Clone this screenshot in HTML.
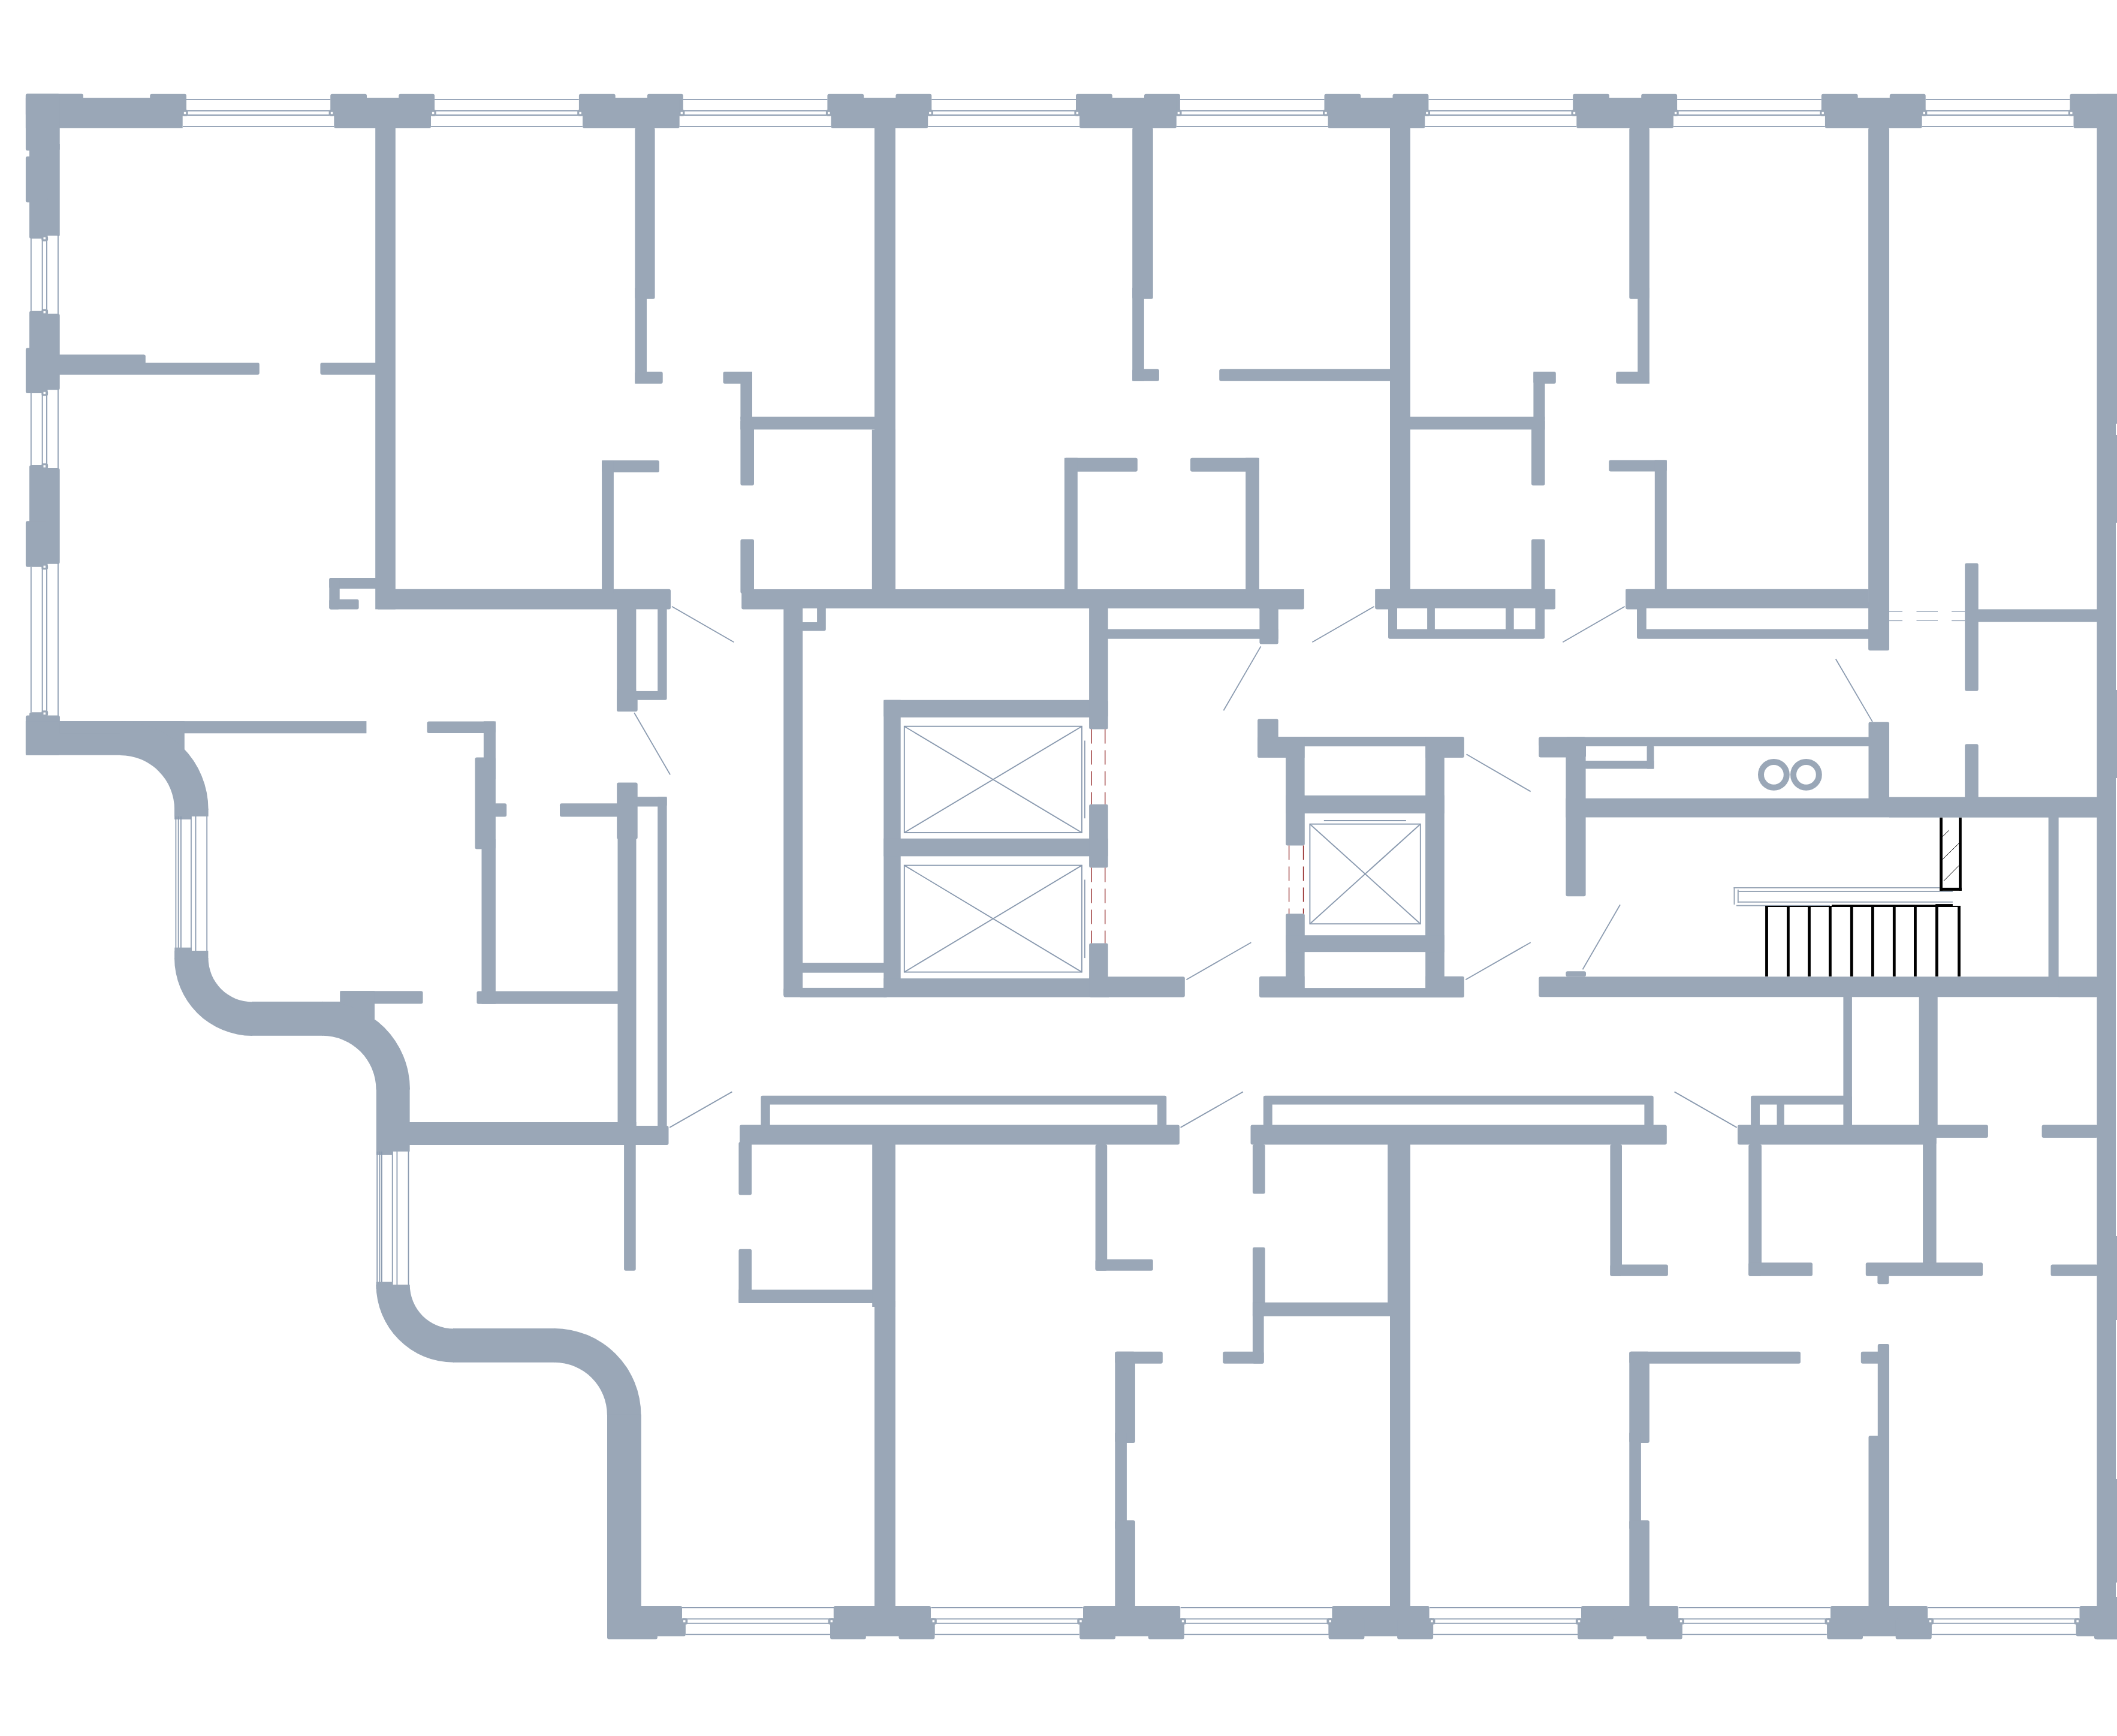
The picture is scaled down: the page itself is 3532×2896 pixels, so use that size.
<!DOCTYPE html>
<html><head><meta charset="utf-8"><title>Floor plan</title>
<style>html,body{margin:0;padding:0;background:#fff}svg{display:block}</style></head>
<body><svg width="3532" height="2896" viewBox="0 0 3532 2896" fill="#9AA7B7" shape-rendering="geometricPrecision">
<rect x="42.9" y="156.6" width="96.0" height="36.9" rx="3"/>
<rect x="42.9" y="163.1" width="261.8" height="50.8"/>
<rect x="250.2" y="156.8" width="60.8" height="36.7" rx="3"/>
<rect x="551.2" y="156.8" width="60.8" height="36.7" rx="3"/>
<rect x="665.2" y="156.8" width="59.9" height="36.7" rx="3"/>
<rect x="557.3" y="163.1" width="161.7" height="50.9" rx="3"/>
<rect x="965.9" y="156.8" width="60.8" height="36.7" rx="3"/>
<rect x="1079.9" y="156.8" width="59.9" height="36.7" rx="3"/>
<rect x="972.0" y="163.1" width="161.7" height="50.9" rx="3"/>
<rect x="1380.4" y="156.8" width="60.8" height="36.7" rx="3"/>
<rect x="1494.4" y="156.8" width="59.9" height="36.7" rx="3"/>
<rect x="1386.5" y="163.1" width="161.7" height="50.9" rx="3"/>
<rect x="1795.0" y="156.8" width="60.8" height="36.7" rx="3"/>
<rect x="1909.0" y="156.8" width="59.9" height="36.7" rx="3"/>
<rect x="1801.1" y="163.1" width="161.7" height="50.9" rx="3"/>
<rect x="2209.5" y="156.8" width="60.8" height="36.7" rx="3"/>
<rect x="2323.5" y="156.8" width="59.9" height="36.7" rx="3"/>
<rect x="2215.6" y="163.1" width="161.7" height="50.9" rx="3"/>
<rect x="2624.2" y="156.8" width="60.8" height="36.7" rx="3"/>
<rect x="2738.2" y="156.8" width="59.9" height="36.7" rx="3"/>
<rect x="2630.3" y="163.1" width="161.7" height="50.9" rx="3"/>
<rect x="3038.8" y="156.8" width="60.8" height="36.7" rx="3"/>
<rect x="3152.8" y="156.8" width="59.9" height="36.7" rx="3"/>
<rect x="3044.9" y="163.1" width="161.7" height="50.9" rx="3"/>
<rect x="3453.4" y="156.8" width="81.6" height="36.7" rx="3"/>
<rect x="3459.5" y="163.1" width="75.5" height="50.9" rx="3"/>
<line x1="311.0" y1="165.8" x2="551.2" y2="165.8" stroke="#8B9BB0" stroke-width="1.8"/>
<line x1="311.0" y1="184.9" x2="551.2" y2="184.9" stroke="#8B9BB0" stroke-width="1.8"/>
<line x1="311.0" y1="192.0" x2="551.2" y2="192.0" stroke="#8B9BB0" stroke-width="1.8"/>
<line x1="305.0" y1="211.2" x2="557.2" y2="211.2" stroke="#8B9BB0" stroke-width="1.8"/>
<line x1="725.1" y1="165.8" x2="965.8" y2="165.8" stroke="#8B9BB0" stroke-width="1.8"/>
<line x1="725.1" y1="184.9" x2="965.8" y2="184.9" stroke="#8B9BB0" stroke-width="1.8"/>
<line x1="725.1" y1="192.0" x2="965.8" y2="192.0" stroke="#8B9BB0" stroke-width="1.8"/>
<line x1="719.1" y1="211.2" x2="971.8" y2="211.2" stroke="#8B9BB0" stroke-width="1.8"/>
<line x1="1139.8" y1="165.8" x2="1380.5" y2="165.8" stroke="#8B9BB0" stroke-width="1.8"/>
<line x1="1139.8" y1="184.9" x2="1380.5" y2="184.9" stroke="#8B9BB0" stroke-width="1.8"/>
<line x1="1139.8" y1="192.0" x2="1380.5" y2="192.0" stroke="#8B9BB0" stroke-width="1.8"/>
<line x1="1133.8" y1="211.2" x2="1386.5" y2="211.2" stroke="#8B9BB0" stroke-width="1.8"/>
<line x1="1554.3" y1="165.8" x2="1795.0" y2="165.8" stroke="#8B9BB0" stroke-width="1.8"/>
<line x1="1554.3" y1="184.9" x2="1795.0" y2="184.9" stroke="#8B9BB0" stroke-width="1.8"/>
<line x1="1554.3" y1="192.0" x2="1795.0" y2="192.0" stroke="#8B9BB0" stroke-width="1.8"/>
<line x1="1548.3" y1="211.2" x2="1801.0" y2="211.2" stroke="#8B9BB0" stroke-width="1.8"/>
<line x1="1968.9" y1="165.8" x2="2209.6" y2="165.8" stroke="#8B9BB0" stroke-width="1.8"/>
<line x1="1968.9" y1="184.9" x2="2209.6" y2="184.9" stroke="#8B9BB0" stroke-width="1.8"/>
<line x1="1968.9" y1="192.0" x2="2209.6" y2="192.0" stroke="#8B9BB0" stroke-width="1.8"/>
<line x1="1962.9" y1="211.2" x2="2215.6" y2="211.2" stroke="#8B9BB0" stroke-width="1.8"/>
<line x1="2383.4" y1="165.8" x2="2624.1" y2="165.8" stroke="#8B9BB0" stroke-width="1.8"/>
<line x1="2383.4" y1="184.9" x2="2624.1" y2="184.9" stroke="#8B9BB0" stroke-width="1.8"/>
<line x1="2383.4" y1="192.0" x2="2624.1" y2="192.0" stroke="#8B9BB0" stroke-width="1.8"/>
<line x1="2377.4" y1="211.2" x2="2630.1" y2="211.2" stroke="#8B9BB0" stroke-width="1.8"/>
<line x1="2798.1" y1="165.8" x2="3038.8" y2="165.8" stroke="#8B9BB0" stroke-width="1.8"/>
<line x1="2798.1" y1="184.9" x2="3038.8" y2="184.9" stroke="#8B9BB0" stroke-width="1.8"/>
<line x1="2798.1" y1="192.0" x2="3038.8" y2="192.0" stroke="#8B9BB0" stroke-width="1.8"/>
<line x1="2792.1" y1="211.2" x2="3044.8" y2="211.2" stroke="#8B9BB0" stroke-width="1.8"/>
<line x1="3212.7" y1="165.8" x2="3453.4" y2="165.8" stroke="#8B9BB0" stroke-width="1.8"/>
<line x1="3212.7" y1="184.9" x2="3453.4" y2="184.9" stroke="#8B9BB0" stroke-width="1.8"/>
<line x1="3212.7" y1="192.0" x2="3453.4" y2="192.0" stroke="#8B9BB0" stroke-width="1.8"/>
<line x1="3206.7" y1="211.2" x2="3459.4" y2="211.2" stroke="#8B9BB0" stroke-width="1.8"/>
<rect x="1390.8" y="2679.0" width="162.2" height="22.0" rx="3"/>
<rect x="1385.0" y="2699.5" width="174.5" height="30.1" rx="3"/>
<rect x="1385.0" y="2699.5" width="59.8" height="35.1" rx="3"/>
<rect x="1499.5" y="2699.5" width="60.0" height="35.1" rx="3"/>
<rect x="1807.0" y="2679.0" width="162.2" height="22.0" rx="3"/>
<rect x="1801.2" y="2699.5" width="174.5" height="30.1" rx="3"/>
<rect x="1801.2" y="2699.5" width="59.8" height="35.1" rx="3"/>
<rect x="1915.7" y="2699.5" width="60.0" height="35.1" rx="3"/>
<rect x="2222.4" y="2679.0" width="162.2" height="22.0" rx="3"/>
<rect x="2216.6" y="2699.5" width="174.5" height="30.1" rx="3"/>
<rect x="2216.6" y="2699.5" width="59.8" height="35.1" rx="3"/>
<rect x="2331.1" y="2699.5" width="60.0" height="35.1" rx="3"/>
<rect x="2638.0" y="2679.0" width="162.2" height="22.0" rx="3"/>
<rect x="2632.2" y="2699.5" width="174.5" height="30.1" rx="3"/>
<rect x="2632.2" y="2699.5" width="59.8" height="35.1" rx="3"/>
<rect x="2746.7" y="2699.5" width="60.0" height="35.1" rx="3"/>
<rect x="3054.0" y="2679.0" width="162.2" height="22.0" rx="3"/>
<rect x="3048.2" y="2699.5" width="174.5" height="30.1" rx="3"/>
<rect x="3048.2" y="2699.5" width="59.8" height="35.1" rx="3"/>
<rect x="3162.7" y="2699.5" width="60.0" height="35.1" rx="3"/>
<rect x="3469.5" y="2679.0" width="65.5" height="22.0" rx="3"/>
<rect x="3463.6" y="2699.5" width="71.4" height="30.1" rx="3"/>
<rect x="3494.0" y="2699.5" width="41.0" height="35.1" rx="3"/>
<rect x="1013.0" y="2679.0" width="83.9" height="55.6" rx="3"/>
<rect x="1013.0" y="2679.0" width="125.0" height="22.0" rx="3"/>
<rect x="1013.0" y="2699.5" width="130.9" height="30.1" rx="3"/>
<line x1="1137.9" y1="2681.8" x2="1391.0" y2="2681.8" stroke="#8B9BB0" stroke-width="1.8"/>
<line x1="1143.9" y1="2700.7" x2="1385.0" y2="2700.7" stroke="#8B9BB0" stroke-width="1.8"/>
<line x1="1143.9" y1="2707.8" x2="1385.0" y2="2707.8" stroke="#8B9BB0" stroke-width="1.8"/>
<line x1="1143.9" y1="2726.7" x2="1385.0" y2="2726.7" stroke="#8B9BB0" stroke-width="1.8"/>
<line x1="1553.5" y1="2681.8" x2="1806.6" y2="2681.8" stroke="#8B9BB0" stroke-width="1.8"/>
<line x1="1559.5" y1="2700.7" x2="1800.6" y2="2700.7" stroke="#8B9BB0" stroke-width="1.8"/>
<line x1="1559.5" y1="2707.8" x2="1800.6" y2="2707.8" stroke="#8B9BB0" stroke-width="1.8"/>
<line x1="1559.5" y1="2726.7" x2="1800.6" y2="2726.7" stroke="#8B9BB0" stroke-width="1.8"/>
<line x1="1969.7" y1="2681.8" x2="2222.8" y2="2681.8" stroke="#8B9BB0" stroke-width="1.8"/>
<line x1="1975.7" y1="2700.7" x2="2216.8" y2="2700.7" stroke="#8B9BB0" stroke-width="1.8"/>
<line x1="1975.7" y1="2707.8" x2="2216.8" y2="2707.8" stroke="#8B9BB0" stroke-width="1.8"/>
<line x1="1975.7" y1="2726.7" x2="2216.8" y2="2726.7" stroke="#8B9BB0" stroke-width="1.8"/>
<line x1="2385.1" y1="2681.8" x2="2638.2" y2="2681.8" stroke="#8B9BB0" stroke-width="1.8"/>
<line x1="2391.1" y1="2700.7" x2="2632.2" y2="2700.7" stroke="#8B9BB0" stroke-width="1.8"/>
<line x1="2391.1" y1="2707.8" x2="2632.2" y2="2707.8" stroke="#8B9BB0" stroke-width="1.8"/>
<line x1="2391.1" y1="2726.7" x2="2632.2" y2="2726.7" stroke="#8B9BB0" stroke-width="1.8"/>
<line x1="2800.7" y1="2681.8" x2="3053.8" y2="2681.8" stroke="#8B9BB0" stroke-width="1.8"/>
<line x1="2806.7" y1="2700.7" x2="3047.8" y2="2700.7" stroke="#8B9BB0" stroke-width="1.8"/>
<line x1="2806.7" y1="2707.8" x2="3047.8" y2="2707.8" stroke="#8B9BB0" stroke-width="1.8"/>
<line x1="2806.7" y1="2726.7" x2="3047.8" y2="2726.7" stroke="#8B9BB0" stroke-width="1.8"/>
<line x1="3216.7" y1="2681.8" x2="3469.8" y2="2681.8" stroke="#8B9BB0" stroke-width="1.8"/>
<line x1="3222.7" y1="2700.7" x2="3463.8" y2="2700.7" stroke="#8B9BB0" stroke-width="1.8"/>
<line x1="3222.7" y1="2707.8" x2="3463.8" y2="2707.8" stroke="#8B9BB0" stroke-width="1.8"/>
<line x1="3222.7" y1="2726.7" x2="3463.8" y2="2726.7" stroke="#8B9BB0" stroke-width="1.8"/>
<rect x="3498.4" y="156.8" width="36.6" height="2577.8"/>
<rect x="42.9" y="156.6" width="56.8" height="94.7" rx="3"/>
<rect x="49.0" y="240.0" width="50.7" height="153.2"/>
<rect x="42.9" y="261.0" width="36.6" height="76.6" rx="3"/>
<rect x="49.0" y="330.0" width="30.5" height="68.0" rx="3"/>
<line x1="51.8" y1="398.0" x2="51.8" y2="518.8" stroke="#8B9BB0" stroke-width="1.8"/>
<line x1="70.6" y1="398.0" x2="70.6" y2="518.8" stroke="#8B9BB0" stroke-width="1.8"/>
<line x1="78.0" y1="398.0" x2="78.0" y2="518.8" stroke="#8B9BB0" stroke-width="1.8"/>
<line x1="96.9" y1="392.0" x2="96.9" y2="524.8" stroke="#8B9BB0" stroke-width="1.8"/>
<rect x="49.0" y="518.8" width="30.5" height="81.2" rx="3"/>
<rect x="49.0" y="523.5" width="50.7" height="127.0" rx="3"/>
<rect x="42.9" y="580.4" width="36.6" height="75.6" rx="3"/>
<line x1="51.8" y1="656.0" x2="51.8" y2="776.0" stroke="#8B9BB0" stroke-width="1.8"/>
<line x1="70.6" y1="656.0" x2="70.6" y2="776.0" stroke="#8B9BB0" stroke-width="1.8"/>
<line x1="78.0" y1="656.0" x2="78.0" y2="776.0" stroke="#8B9BB0" stroke-width="1.8"/>
<line x1="96.9" y1="650.0" x2="96.9" y2="782.0" stroke="#8B9BB0" stroke-width="1.8"/>
<rect x="49.0" y="776.0" width="30.5" height="124.0" rx="3"/>
<rect x="49.0" y="781.0" width="50.7" height="159.7" rx="3"/>
<rect x="42.9" y="869.3" width="36.6" height="76.5" rx="3"/>
<line x1="51.8" y1="945.8" x2="51.8" y2="1188.3" stroke="#8B9BB0" stroke-width="1.8"/>
<line x1="70.6" y1="945.8" x2="70.6" y2="1188.3" stroke="#8B9BB0" stroke-width="1.8"/>
<line x1="78.0" y1="945.8" x2="78.0" y2="1188.3" stroke="#8B9BB0" stroke-width="1.8"/>
<line x1="96.9" y1="939.8" x2="96.9" y2="1194.3" stroke="#8B9BB0" stroke-width="1.8"/>
<rect x="49.0" y="1188.3" width="30.5" height="21.7" rx="3"/>
<rect x="42.9" y="1193.6" width="57.0" height="66.1" rx="3"/>
<rect x="42.9" y="1203.1" width="158.1" height="56.6"/>
<rect x="99.7" y="1203.1" width="511.7" height="20.2"/>
<rect x="200.6" y="1203.1" width="107.2" height="46.9"/>
<path d="M200.6 1203.4 A147 147 0 0 1 347.6 1350.4 L291.1 1350.4 A90.5 90.5 0 0 0 200.6 1259.9 Z"/>
<rect x="291.1" y="1349.4" width="56.5" height="12.6"/>
<rect x="291.1" y="1349.4" width="26.9" height="17.6"/>
<line x1="293.4" y1="1362.0" x2="293.4" y2="1586.0" stroke="#8B9BB0" stroke-width="1.8"/>
<line x1="297.6" y1="1362.0" x2="297.6" y2="1586.0" stroke="#8B9BB0" stroke-width="1.8"/>
<line x1="301.9" y1="1362.0" x2="301.9" y2="1586.0" stroke="#8B9BB0" stroke-width="1.8"/>
<line x1="318.9" y1="1362.0" x2="318.9" y2="1586.0" stroke="#8B9BB0" stroke-width="1.8"/>
<line x1="326.5" y1="1362.0" x2="326.5" y2="1586.0" stroke="#8B9BB0" stroke-width="1.8"/>
<line x1="345.2" y1="1362.0" x2="345.2" y2="1586.0" stroke="#8B9BB0" stroke-width="1.8"/>
<rect x="291.3" y="1580.7" width="28.7" height="19.3"/>
<rect x="291.3" y="1586.0" width="56.1" height="13.0"/>
<path d="M291.0 1598.0 A130 130 0 0 0 421.0 1728.0 L421.0 1671.5 A73.5 73.5 0 0 1 347.5 1598.0 Z"/>
<rect x="420.0" y="1670.9" width="119.0" height="56.9"/>
<rect x="537.8" y="1670.9" width="87.1" height="29.1"/>
<rect x="567.4" y="1653.2" width="138.1" height="21.3" rx="3"/>
<rect x="567.4" y="1653.2" width="57.5" height="46.8"/>
<path d="M537.8 1671.3 A146.2 146.2 0 0 1 684.0 1817.5 L627.5 1817.5 A89.7 89.7 0 0 0 537.8 1727.8 Z"/>
<rect x="627.9" y="1816.5" width="55.7" height="104.5"/>
<rect x="627.9" y="1816.5" width="27.1" height="110.3"/>
<line x1="629.2" y1="1921.0" x2="629.2" y2="2143.0" stroke="#8B9BB0" stroke-width="1.8"/>
<line x1="633.5" y1="1921.0" x2="633.5" y2="2143.0" stroke="#8B9BB0" stroke-width="1.8"/>
<line x1="636.9" y1="1921.0" x2="636.9" y2="2143.0" stroke="#8B9BB0" stroke-width="1.8"/>
<line x1="654.7" y1="1921.0" x2="654.7" y2="2143.0" stroke="#8B9BB0" stroke-width="1.8"/>
<line x1="662.4" y1="1921.0" x2="662.4" y2="2143.0" stroke="#8B9BB0" stroke-width="1.8"/>
<line x1="681.5" y1="1921.0" x2="681.5" y2="2143.0" stroke="#8B9BB0" stroke-width="1.8"/>
<rect x="627.6" y="2138.4" width="27.4" height="11.6"/>
<rect x="627.6" y="2143.1" width="55.8" height="1.2"/>
<path d="M627.5 2143.3 A129.5 129.5 0 0 0 757.0 2272.8 L757.0 2216.6 A73.3 73.3 0 0 1 683.7 2143.3 Z"/>
<rect x="756.0" y="2216.1" width="170.0" height="56.7"/>
<path d="M924.9 2216.1 A144.6 144.6 0 0 1 1069.5 2360.7 L1012.9 2360.7 A88 88 0 0 0 924.9 2272.7 Z"/>
<rect x="1013.0" y="2359.7" width="56.8" height="340.3"/>
<rect x="626.2" y="213.0" width="33.6" height="803.4"/>
<rect x="95.0" y="591.5" width="147.8" height="33.5" rx="3"/>
<rect x="95.0" y="605.0" width="337.8" height="20.0" rx="3"/>
<rect x="534.4" y="605.0" width="95.6" height="20.0" rx="3"/>
<rect x="549.3" y="964.0" width="80.7" height="18.0" rx="3"/>
<rect x="549.3" y="964.0" width="17.4" height="52.4" rx="3"/>
<rect x="549.3" y="999.8" width="49.3" height="16.6" rx="3"/>
<rect x="628.4" y="982.8" width="490.6" height="33.6" rx="3"/>
<rect x="712.5" y="1203.4" width="114.4" height="19.6" rx="3"/>
<rect x="806.9" y="1203.4" width="20.0" height="96.6"/>
<rect x="792.5" y="1263.4" width="34.4" height="153.0" rx="3"/>
<rect x="822.0" y="1340.3" width="23.2" height="22.1" rx="3"/>
<rect x="803.5" y="1400.0" width="23.4" height="274.7"/>
<rect x="795.4" y="1653.4" width="239.6" height="21.3" rx="3"/>
<rect x="934.0" y="1340.3" width="101.0" height="22.1" rx="3"/>
<rect x="1059.4" y="213.0" width="33.2" height="285.8" rx="3"/>
<rect x="1059.4" y="480.0" width="19.6" height="160.0"/>
<rect x="1059.4" y="620.0" width="46.3" height="20.0" rx="3"/>
<rect x="1206.5" y="620.0" width="48.5" height="20.0" rx="3"/>
<rect x="1235.4" y="620.0" width="19.6" height="80.0"/>
<rect x="1235.4" y="695.2" width="226.6" height="21.3"/>
<rect x="1235.4" y="700.0" width="22.6" height="109.8" rx="3"/>
<rect x="1235.4" y="899.5" width="22.6" height="90.5" rx="3"/>
<rect x="1237.2" y="983.0" width="102.8" height="33.4" rx="3"/>
<rect x="1300.0" y="983.0" width="1817.5" height="31.9"/>
<rect x="1459.0" y="213.0" width="34.9" height="770.0"/>
<rect x="1454.8" y="716.5" width="39.1" height="266.5"/>
<rect x="1004.1" y="768.1" width="95.8" height="19.8" rx="3"/>
<rect x="1004.1" y="768.1" width="19.8" height="221.9"/>
<rect x="1029.2" y="1005.0" width="32.3" height="181.9" rx="3"/>
<rect x="1029.2" y="1150.0" width="34.5" height="36.9" rx="3"/>
<rect x="1061.5" y="1005.0" width="51.1" height="162.7" rx="3"/>
<rect x="1061.5" y="1016.4" width="35.7" height="136.5" fill="#fff"/>
<rect x="1029.2" y="1305.5" width="34.5" height="94.5" rx="3"/>
<rect x="1030.5" y="1390.0" width="31.0" height="520.0"/>
<rect x="1055.0" y="1329.3" width="57.6" height="16.1" rx="3"/>
<rect x="1097.2" y="1329.3" width="15.4" height="550.7"/>
<rect x="660.0" y="1872.0" width="401.5" height="38.0"/>
<rect x="1050.0" y="1878.0" width="65.5" height="32.0" rx="3"/>
<rect x="1041.1" y="1905.0" width="19.6" height="214.8" rx="3"/>
<line x1="1121.0" y1="1011.7" x2="1224.4" y2="1071.2" stroke="#8B9BB0" stroke-width="1.8"/>
<line x1="1058.1" y1="1189.0" x2="1118.1" y2="1292.3" stroke="#8B9BB0" stroke-width="1.8"/>
<line x1="1117.2" y1="1880.9" x2="1221.4" y2="1821.4" stroke="#8B9BB0" stroke-width="1.8"/>
<rect x="1307.3" y="1005.0" width="31.9" height="655.0"/>
<rect x="1332.0" y="1005.0" width="45.8" height="47.5" rx="3"/>
<rect x="1339.2" y="1014.9" width="23.9" height="23.1" fill="#fff"/>
<rect x="1307.3" y="1647.9" width="172.7" height="15.6" rx="3"/>
<rect x="1335.0" y="1606.1" width="143.0" height="16.6"/>
<rect x="1335.0" y="1647.9" width="145.0" height="15.6"/>
<rect x="1474.3" y="1167.7" width="374.3" height="29.0" rx="3"/>
<rect x="1474.3" y="1167.7" width="28.4" height="495.3"/>
<rect x="1474.3" y="1398.8" width="374.3" height="29.6"/>
<rect x="1817.1" y="1005.0" width="31.5" height="211.5" rx="3"/>
<rect x="1817.1" y="1341.7" width="31.5" height="105.9" rx="3"/>
<rect x="1817.1" y="1573.4" width="31.5" height="66.6" rx="3"/>
<rect x="1474.3" y="1632.2" width="375.7" height="31.3"/>
<rect x="1817.1" y="1629.2" width="159.7" height="34.3" rx="3"/>
<rect x="1508.8" y="1211.7" width="296.1" height="177.3" fill="none" stroke="#8B9BB0" stroke-width="1.9"/>
<line x1="1508.8" y1="1211.7" x2="1804.9" y2="1389.0" stroke="#8B9BB0" stroke-width="1.9"/>
<line x1="1508.8" y1="1389.0" x2="1804.9" y2="1211.7" stroke="#8B9BB0" stroke-width="1.9"/>
<rect x="1508.8" y="1443.6" width="296.1" height="178.0" fill="none" stroke="#8B9BB0" stroke-width="1.9"/>
<line x1="1508.8" y1="1443.6" x2="1804.9" y2="1621.6" stroke="#8B9BB0" stroke-width="1.9"/>
<line x1="1508.8" y1="1621.6" x2="1804.9" y2="1443.6" stroke="#8B9BB0" stroke-width="1.9"/>
<line x1="1809.8" y1="1235.5" x2="1809.8" y2="1365.2" stroke="#8B9BB0" stroke-width="1.8"/>
<line x1="1809.8" y1="1467.5" x2="1809.8" y2="1598.1" stroke="#8B9BB0" stroke-width="1.8"/>
<line x1="1820.8" y1="1216.5" x2="1820.8" y2="1341.7" stroke="#8A1515" stroke-width="1.3" stroke-dasharray="24 11"/>
<line x1="1820.8" y1="1447.6" x2="1820.8" y2="1573.4" stroke="#8A1515" stroke-width="1.3" stroke-dasharray="24 11"/>
<line x1="1843.7" y1="1216.5" x2="1843.7" y2="1341.7" stroke="#8A1515" stroke-width="1.3" stroke-dasharray="24 11"/>
<line x1="1843.7" y1="1447.6" x2="1843.7" y2="1573.4" stroke="#8A1515" stroke-width="1.3" stroke-dasharray="24 11"/>
<rect x="1845.0" y="1049.5" width="287.8" height="16.2"/>
<rect x="2101.4" y="1010.0" width="31.4" height="64.6" rx="3"/>
<rect x="2098.1" y="1199.3" width="34.6" height="64.8" rx="3"/>
<rect x="2098.1" y="1229.0" width="344.8" height="35.1" rx="3"/>
<rect x="2145.1" y="1229.0" width="31.7" height="181.4" rx="3"/>
<rect x="2145.1" y="1524.2" width="31.7" height="138.8" rx="3"/>
<rect x="2378.1" y="1229.0" width="31.7" height="434.0"/>
<rect x="2145.1" y="1326.9" width="264.7" height="30.0"/>
<rect x="2145.1" y="1560.2" width="264.7" height="28.2"/>
<rect x="2101.0" y="1628.8" width="341.9" height="35.1" rx="3"/>
<rect x="2176.8" y="1245.1" width="201.3" height="81.8" fill="#fff"/>
<rect x="2176.8" y="1588.4" width="201.3" height="59.7" fill="#fff"/>
<rect x="2185.4" y="1374.7" width="184.4" height="166.5" fill="none" stroke="#8B9BB0" stroke-width="1.9"/>
<line x1="2185.4" y1="1374.7" x2="2369.8" y2="1541.2" stroke="#8B9BB0" stroke-width="1.9"/>
<line x1="2185.4" y1="1541.2" x2="2369.8" y2="1374.7" stroke="#8B9BB0" stroke-width="1.9"/>
<line x1="2208.8" y1="1369.0" x2="2345.9" y2="1369.0" stroke="#8B9BB0" stroke-width="1.8"/>
<line x1="2150.6" y1="1410.4" x2="2150.6" y2="1524.2" stroke="#8A1515" stroke-width="1.3" stroke-dasharray="24 11"/>
<line x1="2174.5" y1="1410.4" x2="2174.5" y2="1524.2" stroke="#8A1515" stroke-width="1.3" stroke-dasharray="24 11"/>
<rect x="1889.2" y="213.0" width="34.5" height="285.8" rx="3"/>
<rect x="1889.2" y="480.0" width="19.6" height="155.7"/>
<rect x="1889.2" y="615.7" width="44.7" height="20.0" rx="3"/>
<rect x="2034.2" y="615.7" width="288.8" height="20.0" rx="3"/>
<rect x="2319.0" y="213.0" width="34.0" height="802.0"/>
<rect x="2558.4" y="620.0" width="37.4" height="20.0" rx="3"/>
<rect x="2558.4" y="620.0" width="19.1" height="80.0"/>
<rect x="2350.0" y="695.2" width="227.5" height="21.3"/>
<rect x="2555.0" y="700.0" width="22.5" height="109.8" rx="3"/>
<rect x="2555.0" y="899.5" width="22.5" height="90.5" rx="3"/>
<rect x="1775.9" y="763.8" width="121.9" height="22.9" rx="3"/>
<rect x="1775.9" y="763.8" width="21.9" height="226.2"/>
<rect x="1986.0" y="763.8" width="114.9" height="22.9" rx="3"/>
<rect x="2078.2" y="763.8" width="22.7" height="226.2"/>
<rect x="2100.0" y="983.0" width="75.8" height="33.4" rx="3"/>
<rect x="2175.8" y="980.0" width="118.6" height="40.0" fill="#fff"/>
<rect x="2294.4" y="982.8" width="300.6" height="33.6" rx="3"/>
<rect x="2595.0" y="980.0" width="117.4" height="40.0" fill="#fff"/>
<rect x="2316.0" y="1010.0" width="261.1" height="55.7" rx="3"/>
<rect x="2331.0" y="1014.7" width="50.1" height="34.8" fill="#fff"/>
<rect x="2393.9" y="1014.7" width="118.1" height="34.8" fill="#fff"/>
<rect x="2525.7" y="1014.7" width="35.7" height="34.8" fill="#fff"/>
<rect x="1776.2" y="780.0" width="2.8" height="203.0"/>
<line x1="2103.5" y1="1078.4" x2="2041.4" y2="1185.2" stroke="#8B9BB0" stroke-width="1.8"/>
<line x1="2292.7" y1="1011.7" x2="2189.4" y2="1071.2" stroke="#8B9BB0" stroke-width="1.8"/>
<line x1="2710.7" y1="1011.7" x2="2607.3" y2="1071.2" stroke="#8B9BB0" stroke-width="1.8"/>
<line x1="2446.6" y1="1258.3" x2="2553.7" y2="1320.4" stroke="#8B9BB0" stroke-width="1.8"/>
<line x1="1979.4" y1="1634.3" x2="2087.4" y2="1572.2" stroke="#8B9BB0" stroke-width="1.8"/>
<line x1="2445.3" y1="1634.3" x2="2553.7" y2="1572.2" stroke="#8B9BB0" stroke-width="1.8"/>
<line x1="1969.6" y1="1880.9" x2="2073.8" y2="1821.4" stroke="#8B9BB0" stroke-width="1.8"/>
<line x1="2640.5" y1="1617.3" x2="2703.0" y2="1509.3" stroke="#8B9BB0" stroke-width="1.8"/>
<line x1="3062.7" y1="1099.3" x2="3123.9" y2="1203.9" stroke="#8B9BB0" stroke-width="1.8"/>
<line x1="2793.6" y1="1821.4" x2="2897.7" y2="1880.9" stroke="#8B9BB0" stroke-width="1.8"/>
<rect x="2718.3" y="213.0" width="33.6" height="285.8" rx="3"/>
<rect x="2732.3" y="480.0" width="19.6" height="160.0"/>
<rect x="2696.2" y="620.0" width="55.7" height="20.0" rx="3"/>
<rect x="2684.3" y="767.5" width="96.5" height="19.1" rx="3"/>
<rect x="2760.8" y="767.5" width="20.0" height="222.5"/>
<rect x="2712.4" y="982.8" width="405.1" height="33.6" rx="3"/>
<rect x="2731.0" y="1005.0" width="390.0" height="60.7" rx="3"/>
<rect x="2746.8" y="1014.7" width="373.2" height="34.8" fill="#fff"/>
<rect x="3117.1" y="213.0" width="34.9" height="872.3" rx="3"/>
<rect x="3278.2" y="939.4" width="22.5" height="213.4" rx="3"/>
<rect x="3278.2" y="1241.3" width="22.5" height="93.7" rx="3"/>
<rect x="3296.0" y="1016.4" width="206.0" height="21.2"/>
<line x1="3152.0" y1="1020.2" x2="3174.0" y2="1020.2" stroke="#8B9BB0" stroke-width="1.2"/>
<line x1="3197.5" y1="1020.2" x2="3233.0" y2="1020.2" stroke="#8B9BB0" stroke-width="1.2"/>
<line x1="3256.0" y1="1020.2" x2="3278.2" y2="1020.2" stroke="#8B9BB0" stroke-width="1.2"/>
<line x1="3152.0" y1="1035.5" x2="3174.0" y2="1035.5" stroke="#8B9BB0" stroke-width="1.2"/>
<line x1="3197.5" y1="1035.5" x2="3233.0" y2="1035.5" stroke="#8B9BB0" stroke-width="1.2"/>
<line x1="3256.0" y1="1035.5" x2="3278.2" y2="1035.5" stroke="#8B9BB0" stroke-width="1.2"/>
<rect x="3117.5" y="1204.3" width="34.5" height="130.7" rx="3"/>
<rect x="2567.3" y="1229.4" width="552.7" height="15.7" rx="3"/>
<rect x="2567.3" y="1229.4" width="78.7" height="34.0" rx="3"/>
<rect x="2612.4" y="1229.4" width="33.2" height="265.9" rx="3"/>
<rect x="2644.8" y="1268.9" width="114.7" height="13.6" rx="1"/>
<rect x="2747.6" y="1245.0" width="11.9" height="37.5" rx="1"/>
<circle cx="2959.4" cy="1292.3" r="21.4" fill="none" stroke="#9AA7B7" stroke-width="10"/>
<circle cx="3013.4" cy="1292.3" r="21.4" fill="none" stroke="#9AA7B7" stroke-width="10"/>
<rect x="2612.4" y="1331.8" width="887.6" height="31.7"/>
<rect x="3152.0" y="1329.7" width="348.0" height="33.8"/>
<rect x="3417.6" y="1363.0" width="17.0" height="269.2"/>
<rect x="2567.3" y="1629.2" width="932.7" height="34.0" rx="3"/>
<rect x="2612.4" y="1620.3" width="33.6" height="8.9" rx="3"/>
<rect x="3434.6" y="1632.2" width="65.4" height="31.0"/>
<rect x="3236.1" y="1363.9" width="4.8" height="122.0" fill="#000"/>
<rect x="3268.1" y="1363.9" width="4.7" height="122.0" fill="#000"/>
<rect x="3236.1" y="1480.9" width="36.7" height="5.0" fill="#000"/>
<line x1="3240.9" y1="1395.6" x2="3251.6" y2="1385.1" stroke="#000" stroke-width="1"/>
<line x1="3240.9" y1="1433.7" x2="3268.1" y2="1407.1" stroke="#000" stroke-width="1"/>
<line x1="3243.0" y1="1469.6" x2="3268.1" y2="1444.2" stroke="#000" stroke-width="1"/>
<line x1="2892.3" y1="1480.9" x2="3236.1" y2="1480.9" stroke="#9AA7B7" stroke-width="2"/>
<line x1="2899.8" y1="1486.9" x2="3257.9" y2="1486.9" stroke="#9AA7B7" stroke-width="2"/>
<line x1="2899.8" y1="1504.7" x2="3257.9" y2="1504.7" stroke="#9AA7B7" stroke-width="2"/>
<line x1="2897.0" y1="1510.7" x2="3053.0" y2="1510.7" stroke="#9AA7B7" stroke-width="2"/>
<line x1="2893.5" y1="1480.9" x2="2893.5" y2="1509.0" stroke="#9AA7B7" stroke-width="2"/>
<line x1="2899.8" y1="1484.0" x2="2899.8" y2="1506.0" stroke="#9AA7B7" stroke-width="2"/>
<rect x="2945.1" y="1512.3" width="4.8" height="116.6" fill="#000"/>
<rect x="2981.0" y="1512.3" width="4.8" height="116.6" fill="#000"/>
<rect x="3016.1" y="1512.3" width="4.8" height="116.6" fill="#000"/>
<rect x="3051.0" y="1512.3" width="4.8" height="116.6" fill="#000"/>
<rect x="3086.9" y="1512.3" width="4.8" height="116.6" fill="#000"/>
<rect x="3122.0" y="1512.3" width="4.8" height="116.6" fill="#000"/>
<rect x="3157.9" y="1512.3" width="4.8" height="116.6" fill="#000"/>
<rect x="3193.0" y="1512.3" width="4.8" height="116.6" fill="#000"/>
<rect x="3229.0" y="1512.3" width="4.8" height="116.6" fill="#000"/>
<rect x="3266.1" y="1512.3" width="4.8" height="116.6" fill="#000"/>
<rect x="2945.1" y="1511.0" width="325.8" height="2.0" fill="#000"/>
<rect x="3056.0" y="1509.3" width="175.0" height="3.7" fill="#000"/>
<rect x="3229.2" y="1508.1" width="28.7" height="4.5" fill="#000"/>
<rect x="1269.4" y="1827.7" width="676.8" height="51.1" rx="3"/>
<rect x="1284.7" y="1842.6" width="646.2" height="35.4" fill="#fff"/>
<rect x="1234.1" y="1876.6" width="733.8" height="32.8" rx="3"/>
<rect x="2107.8" y="1827.7" width="650.9" height="51.1" rx="3"/>
<rect x="2122.7" y="1842.6" width="620.7" height="35.4" fill="#fff"/>
<rect x="2086.5" y="1876.6" width="694.3" height="32.8" rx="3"/>
<rect x="2921.1" y="1827.7" width="168.8" height="51.1" rx="3"/>
<rect x="2936.0" y="1842.6" width="28.5" height="35.4" fill="#fff"/>
<rect x="2976.8" y="1842.6" width="100.3" height="35.4" fill="#fff"/>
<rect x="2899.0" y="1876.6" width="331.6" height="32.8" rx="3"/>
<rect x="3208.0" y="1876.6" width="108.9" height="21.3" rx="3"/>
<rect x="3406.6" y="1876.6" width="93.4" height="21.3" rx="3"/>
<rect x="3075.4" y="1663.0" width="14.5" height="215.8"/>
<rect x="3201.7" y="1663.0" width="31.0" height="215.8"/>
<rect x="3208.1" y="1878.0" width="22.5" height="232.0"/>
<rect x="1232.4" y="1905.0" width="21.7" height="88.5" rx="3"/>
<rect x="1232.4" y="2083.7" width="21.7" height="90.3" rx="3"/>
<rect x="1232.4" y="2151.5" width="229.6" height="22.5"/>
<rect x="1455.2" y="1909.0" width="38.7" height="271.0"/>
<rect x="1459.0" y="2170.0" width="34.9" height="520.0"/>
<rect x="1827.6" y="1909.0" width="19.6" height="210.8" rx="3"/>
<rect x="1827.6" y="2100.7" width="96.1" height="19.1" rx="3"/>
<rect x="2089.9" y="1909.0" width="20.8" height="82.4" rx="3"/>
<rect x="2089.9" y="2080.7" width="20.8" height="115.0" rx="3"/>
<rect x="2089.9" y="2172.7" width="232.1" height="23.0"/>
<rect x="2089.9" y="2190.0" width="18.7" height="84.8" rx="3"/>
<rect x="2040.2" y="2254.8" width="68.4" height="20.0" rx="3"/>
<rect x="2315.2" y="1909.0" width="37.8" height="271.0"/>
<rect x="2319.0" y="2170.0" width="34.0" height="520.0"/>
<rect x="1860.3" y="2254.8" width="79.5" height="20.0" rx="3"/>
<rect x="1860.3" y="2254.8" width="33.6" height="152.2" rx="3"/>
<rect x="1860.3" y="2390.0" width="19.6" height="160.0"/>
<rect x="1860.3" y="2536.2" width="33.6" height="153.8" rx="3"/>
<rect x="2718.3" y="2254.8" width="285.7" height="20.0" rx="3"/>
<rect x="2718.3" y="2254.8" width="33.6" height="152.2" rx="3"/>
<rect x="2718.3" y="2390.0" width="19.6" height="160.0"/>
<rect x="2718.3" y="2536.2" width="33.6" height="153.8" rx="3"/>
<rect x="3104.8" y="2254.8" width="35.2" height="20.0" rx="3"/>
<rect x="3132.8" y="2242.0" width="19.2" height="158.0" rx="3"/>
<rect x="3117.5" y="2395.0" width="34.5" height="295.0" rx="3"/>
<rect x="2686.4" y="1909.0" width="19.6" height="219.7" rx="3"/>
<rect x="2686.4" y="2109.6" width="96.5" height="19.1" rx="3"/>
<rect x="2917.3" y="1909.0" width="21.7" height="219.7" rx="3"/>
<rect x="2917.3" y="2106.2" width="106.7" height="22.5" rx="3"/>
<rect x="3112.8" y="2106.2" width="195.2" height="22.5" rx="3"/>
<rect x="3132.4" y="2120.0" width="19.1" height="22.3" rx="3"/>
<rect x="3421.5" y="2109.6" width="78.5" height="19.1" rx="3"/>
<rect x="304.9" y="183.1" width="8.7" height="10.7" rx="3"/>
<rect x="306.8" y="186.8" width="3.5" height="3.5" fill="#fff"/>
<rect x="548.6" y="183.1" width="8.7" height="10.7" rx="3"/>
<rect x="551.8" y="186.8" width="3.5" height="3.5" fill="#fff"/>
<rect x="719.0" y="183.1" width="8.7" height="10.7" rx="3"/>
<rect x="720.9" y="186.8" width="3.5" height="3.5" fill="#fff"/>
<rect x="963.2" y="183.1" width="8.7" height="10.7" rx="3"/>
<rect x="966.4" y="186.8" width="3.5" height="3.5" fill="#fff"/>
<rect x="1133.7" y="183.1" width="8.7" height="10.7" rx="3"/>
<rect x="1135.6" y="186.8" width="3.5" height="3.5" fill="#fff"/>
<rect x="1377.9" y="183.1" width="8.7" height="10.7" rx="3"/>
<rect x="1381.1" y="186.8" width="3.5" height="3.5" fill="#fff"/>
<rect x="1548.2" y="183.1" width="8.7" height="10.7" rx="3"/>
<rect x="1550.1" y="186.8" width="3.5" height="3.5" fill="#fff"/>
<rect x="1792.4" y="183.1" width="8.7" height="10.7" rx="3"/>
<rect x="1795.6" y="186.8" width="3.5" height="3.5" fill="#fff"/>
<rect x="1962.8" y="183.1" width="8.7" height="10.7" rx="3"/>
<rect x="1964.7" y="186.8" width="3.5" height="3.5" fill="#fff"/>
<rect x="2207.0" y="183.1" width="8.7" height="10.7" rx="3"/>
<rect x="2210.2" y="186.8" width="3.5" height="3.5" fill="#fff"/>
<rect x="2377.3" y="183.1" width="8.7" height="10.7" rx="3"/>
<rect x="2379.2" y="186.8" width="3.5" height="3.5" fill="#fff"/>
<rect x="2621.5" y="183.1" width="8.7" height="10.7" rx="3"/>
<rect x="2624.7" y="186.8" width="3.5" height="3.5" fill="#fff"/>
<rect x="2792.0" y="183.1" width="8.7" height="10.7" rx="3"/>
<rect x="2793.9" y="186.8" width="3.5" height="3.5" fill="#fff"/>
<rect x="3036.2" y="183.1" width="8.7" height="10.7" rx="3"/>
<rect x="3039.4" y="186.8" width="3.5" height="3.5" fill="#fff"/>
<rect x="3206.6" y="183.1" width="8.7" height="10.7" rx="3"/>
<rect x="3208.5" y="186.8" width="3.5" height="3.5" fill="#fff"/>
<rect x="3450.8" y="183.1" width="8.7" height="10.7" rx="3"/>
<rect x="3454.0" y="186.8" width="3.5" height="3.5" fill="#fff"/>
<rect x="1138.0" y="2699.3" width="9.2" height="10.6" rx="3"/>
<rect x="1140.0" y="2702.8" width="3.5" height="3.5" fill="#fff"/>
<rect x="1381.7" y="2699.3" width="9.2" height="10.6" rx="3"/>
<rect x="1385.6" y="2702.8" width="3.5" height="3.5" fill="#fff"/>
<rect x="1553.6" y="2699.3" width="9.2" height="10.6" rx="3"/>
<rect x="1555.6" y="2702.8" width="3.5" height="3.5" fill="#fff"/>
<rect x="1797.3" y="2699.3" width="9.2" height="10.6" rx="3"/>
<rect x="1801.2" y="2702.8" width="3.5" height="3.5" fill="#fff"/>
<rect x="1969.8" y="2699.3" width="9.2" height="10.6" rx="3"/>
<rect x="1971.8" y="2702.8" width="3.5" height="3.5" fill="#fff"/>
<rect x="2213.5" y="2699.3" width="9.2" height="10.6" rx="3"/>
<rect x="2217.4" y="2702.8" width="3.5" height="3.5" fill="#fff"/>
<rect x="2385.2" y="2699.3" width="9.2" height="10.6" rx="3"/>
<rect x="2387.2" y="2702.8" width="3.5" height="3.5" fill="#fff"/>
<rect x="2628.9" y="2699.3" width="9.2" height="10.6" rx="3"/>
<rect x="2632.8" y="2702.8" width="3.5" height="3.5" fill="#fff"/>
<rect x="2800.8" y="2699.3" width="9.2" height="10.6" rx="3"/>
<rect x="2802.8" y="2702.8" width="3.5" height="3.5" fill="#fff"/>
<rect x="3044.5" y="2699.3" width="9.2" height="10.6" rx="3"/>
<rect x="3048.4" y="2702.8" width="3.5" height="3.5" fill="#fff"/>
<rect x="3216.8" y="2699.3" width="9.2" height="10.6" rx="3"/>
<rect x="3218.8" y="2702.8" width="3.5" height="3.5" fill="#fff"/>
<rect x="3460.5" y="2699.3" width="9.2" height="10.6" rx="3"/>
<rect x="3464.4" y="2702.8" width="3.5" height="3.5" fill="#fff"/>
<rect x="69.4" y="393.7" width="10.7" height="8.7" rx="3"/>
<rect x="72.5" y="395.8" width="3.5" height="3.5" fill="#fff"/>
<rect x="69.4" y="515.8" width="10.7" height="9.0" rx="3"/>
<rect x="72.5" y="519.0" width="3.5" height="3.5" fill="#fff"/>
<rect x="69.4" y="651.7" width="10.7" height="8.7" rx="3"/>
<rect x="72.5" y="653.8" width="3.5" height="3.5" fill="#fff"/>
<rect x="69.4" y="773.0" width="10.7" height="9.0" rx="3"/>
<rect x="72.5" y="776.2" width="3.5" height="3.5" fill="#fff"/>
<rect x="69.4" y="941.5" width="10.7" height="8.7" rx="3"/>
<rect x="72.5" y="943.6" width="3.5" height="3.5" fill="#fff"/>
<rect x="69.4" y="1185.3" width="10.7" height="9.0" rx="3"/>
<rect x="72.5" y="1188.5" width="3.5" height="3.5" fill="#fff"/>
<rect x="3530.0" y="706.8" width="5.0" height="19.2" fill="#fff"/>
<rect x="3530.0" y="872.0" width="5.0" height="279.0" fill="#fff"/>
<rect x="3530.0" y="1298.0" width="5.0" height="764.0" fill="#fff"/>
<rect x="3530.0" y="2202.0" width="5.0" height="265.0" fill="#fff"/>
<rect x="3530.0" y="2640.0" width="5.0" height="24.0" fill="#fff"/>
</svg></body></html>
